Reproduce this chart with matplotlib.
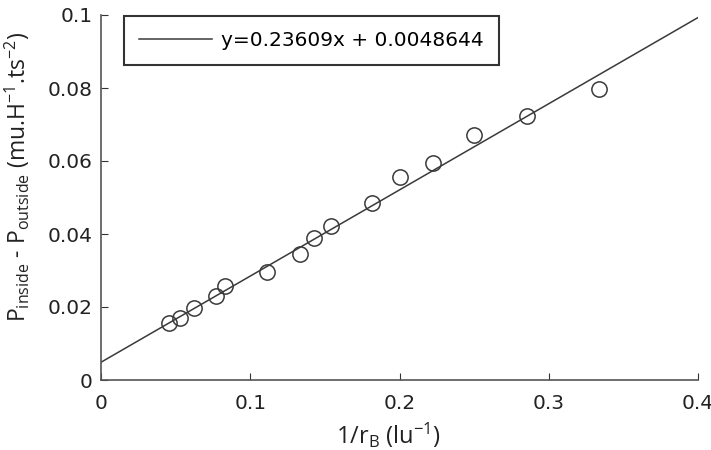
import numpy as np
import matplotlib
matplotlib.use("Agg")
import matplotlib.pyplot as plt

plt.rcParams.update({
    "font.family": ["DejaVu Sans"],
    "mathtext.fontset": "custom",
    "mathtext.rm": "Open Sans",
    "mathtext.it": "Open Sans:italic",
})

# data
inv_r = [1/22, 1/19, 1/16, 1/13, 1/12, 1/9, 1/7.5, 1/7, 1/6.5, 1/5.5, 1/5, 1/4.5, 1/4, 1/3.5, 1/3]
dp = [0.0156, 0.0170, 0.0197, 0.0230, 0.0258, 0.0296, 0.0345, 0.0389, 0.0422,
      0.0485, 0.0557, 0.0595, 0.0672, 0.0722, 0.0797]
slope = 0.23609
intercept = 0.0048644
x_ticks = [0, 0.1, 0.2, 0.3, 0.4]
y_ticks = [0, 0.02, 0.04, 0.06, 0.08, 0.1]

fig = plt.figure(figsize=(7.11, 4.5), dpi=100)
ax = fig.add_axes([101/711, 70/450, 597/711, 365/450])

xf = np.array([0, 0.4])
ax.plot(xf, slope * xf + intercept, color="#3a3a3a", lw=1.1,
        label=f"y={slope}x + {intercept}")
ax.plot(inv_r, dp, "o", mfc="none", mec="#3a3a3a", ms=11, mew=1.1)

ax.set_xlim(0, 0.4)
ax.set_ylim(0, 0.1)
ax.set_xticks(x_ticks)
ax.set_xticklabels(["0", "0.1", "0.2", "0.3", "0.4"])
ax.set_yticks(y_ticks)
ax.set_yticklabels(["0", "0.02", "0.04", "0.06", "0.08", "0.1"])
for s in ["top", "right"]:
    ax.spines[s].set_visible(False)
for s in ["left", "bottom"]:
    ax.spines[s].set_color("#555555")
    ax.spines[s].set_linewidth(1.2)
ax.tick_params(direction="in", length=5, labelsize=14.5, colors="#333333")
ax.tick_params(axis="x", pad=10, labelcolor="#222222")
ax.tick_params(axis="y", pad=6, labelcolor="#222222")

ax.set_xlabel(r"1/r$_{\rm B}$ (lu$^{-1}$)", fontsize=17, color="#222222",
              family="Open Sans")
ax.set_ylabel(r"P$_{\rm inside}$ - P$_{\rm outside}$ (mu.H$^{-1}$.ts$^{-2}$)",
              fontsize=16.5, color="#222222", family="Open Sans")
ax.xaxis.set_label_coords(0.481, -0.112)
ax.yaxis.set_label_coords(-0.116, 0.556)

leg = ax.legend(loc="upper left", bbox_to_anchor=(0.0385, 0.997), fontsize=14.5,
                fancybox=False, framealpha=1, borderpad=0.75, handlelength=3.6,
                handletextpad=0.45, borderaxespad=0)
leg.get_frame().set_edgecolor("#333333")
leg.get_frame().set_linewidth(1.5)

fig.savefig("out.png", dpi=100)
